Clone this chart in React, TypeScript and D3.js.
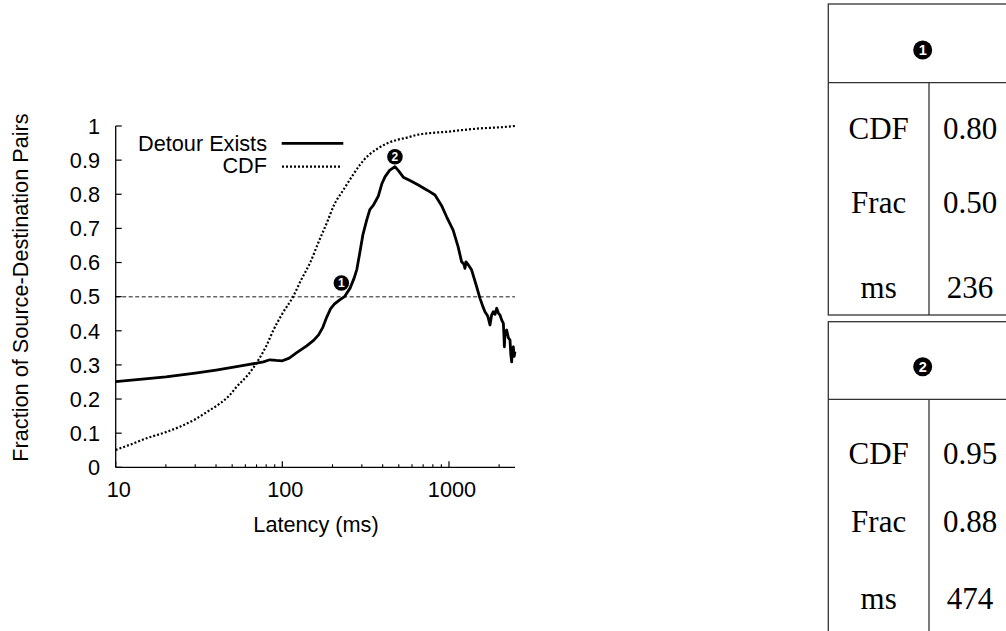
import React from "react";
import * as d3 from "d3";

// ---- data ----
const detourMs = [10, 15, 20, 30, 40, 50, 61, 70, 77, 84, 92, 100, 110, 122, 140, 154, 165, 175, 185, 195, 205, 220, 236, 255, 270, 280, 292, 304, 321, 335, 352, 377, 395, 413, 440, 474, 500, 532, 583, 655, 740, 824, 900, 968, 1059, 1135, 1191, 1230, 1247, 1265, 1320, 1368, 1466, 1535, 1600, 1644, 1700, 1722, 1762, 1800, 1846, 1890, 1933, 1980, 2025, 2070, 2120, 2140, 2149, 2170, 2219, 2270, 2324, 2350, 2378, 2405, 2433, 2460, 2490];
const detourFrac = [0.251, 0.259, 0.265, 0.276, 0.285, 0.293, 0.3, 0.305, 0.309, 0.315, 0.313, 0.312, 0.32, 0.336, 0.356, 0.372, 0.388, 0.41, 0.441, 0.465, 0.478, 0.49, 0.5, 0.525, 0.555, 0.58, 0.63, 0.68, 0.725, 0.755, 0.768, 0.795, 0.83, 0.851, 0.87, 0.881, 0.868, 0.85, 0.84, 0.827, 0.812, 0.798, 0.768, 0.734, 0.695, 0.646, 0.602, 0.595, 0.583, 0.602, 0.59, 0.578, 0.529, 0.495, 0.47, 0.456, 0.445, 0.437, 0.417, 0.445, 0.456, 0.448, 0.466, 0.452, 0.446, 0.432, 0.422, 0.38, 0.353, 0.395, 0.402, 0.38, 0.373, 0.33, 0.309, 0.35, 0.353, 0.325, 0.339];

const cdfMs = [10, 12, 15.3, 20, 24.3, 30.6, 36, 42.3, 48, 53.2, 62, 72, 80, 88, 100, 116, 130, 147, 165, 184.5, 205, 232, 260, 292, 330, 368, 420, 485, 560, 640, 800, 968, 1200, 1535, 2000, 2490];
const cdfVal = [0.051, 0.065, 0.085, 0.103, 0.119, 0.143, 0.165, 0.187, 0.21, 0.236, 0.27, 0.315, 0.355, 0.4, 0.45, 0.5, 0.55, 0.6, 0.66, 0.715, 0.77, 0.812, 0.85, 0.886, 0.915, 0.932, 0.948, 0.959, 0.966, 0.974, 0.98, 0.983, 0.988, 0.993, 0.996, 1.0];

const xMajorTicks = [10, 100, 1000];
const yTicks = [0, 0.1, 0.2, 0.3, 0.4, 0.5, 0.6, 0.7, 0.8, 0.9, 1];
const yTickLabels = ["0", "0.1", "0.2", "0.3", "0.4", "0.5", "0.6", "0.7", "0.8", "0.9", "1"];
const referenceLine = 0.5;

const markerLabels = ["1", "2"];
const markerMs = [226, 474];
const markerFrac = [0.54, 0.91];

const tableRowLabels = ["CDF", "Frac", "ms"];
const tableValues = [
  ["0.80", "0.50", "236"],
  ["0.95", "0.88", "474"],
];

const seriesNames = ["Detour Exists", "CDF"];

export default function App() {
  const left = 115.7, right = 515, top = 126, bottom = 467.3;
  const x = d3.scaleLog().domain([10, 2490]).range([left, right]);
  const y = d3.scaleLinear().domain([0, 1]).range([bottom, top]);

  const detourLine = d3.line<number>()
    .x((_, i) => x(detourMs[i]))
    .y((d) => y(d))(detourFrac) as string;
  const cdfLine = d3.line<number>()
    .x((_, i) => x(cdfMs[i]))
    .y((d) => y(d))
    .curve(d3.curveMonotoneX)(cdfVal) as string;

  const minorTicks = x.ticks().filter((t) => !xMajorTicks.includes(t));

  const sans = "'Liberation Sans', Arial, Helvetica, sans-serif";
  const serif = "'Liberation Serif', 'Times New Roman', serif";
  const fs = 21.7;

  // table geometry
  const tLeft = 828.3, tRight = 1017, tDiv = 929;
  const tables = [
    { top: 4, header: 82.7, bottom: 315, markerY: 50, rows: [139.3, 213.3, 298.3] },
    { top: 321.7, header: 399.3, bottom: 700, markerY: 366.7, rows: [464, 531.7, 609.3] },
  ];
  const col1 = (tLeft + tDiv) / 2;
  const col2 = 970;

  return (
    <svg width={1006} height={631} style={{ position: "absolute", left: 0, top: 0, background: "#fff" }}>
      <rect x={0} y={0} width={1006} height={631} fill="#fff" />
      {/* reference line */}
      <line x1={left} x2={right} y1={y(referenceLine)} y2={y(referenceLine)} stroke="#666" strokeWidth={1.5} strokeDasharray="4,2.5" />
      {/* axes */}
      <line x1={left} x2={left} y1={top} y2={bottom} stroke="#000" strokeWidth={1.3} />
      <line x1={left} x2={right} y1={bottom} y2={bottom} stroke="#000" strokeWidth={1.3} />
      {yTicks.map((t, i) => (
        <g key={"y" + i}>
          <line x1={left} x2={left + 6} y1={y(t)} y2={y(t)} stroke="#000" strokeWidth={1.2} />
          <text x={100} y={y(t)} dy="0.36em" textAnchor="end" fontFamily={sans} fontSize={fs} fill="#000">{yTickLabels[i]}</text>
        </g>
      ))}
      {xMajorTicks.map((t) => (
        <g key={"x" + t}>
          <line x1={x(t)} x2={x(t)} y1={bottom} y2={bottom - 6} stroke="#000" strokeWidth={1.2} />
          <text x={x(t) + 3} y={496.7} textAnchor="middle" fontFamily={sans} fontSize={fs} fill="#000">{String(t)}</text>
        </g>
      ))}
      {minorTicks.map((t) => (
        <line key={"m" + t} x1={x(t)} x2={x(t)} y1={bottom} y2={bottom - 3} stroke="#000" strokeWidth={1.1} />
      ))}
      <text x={316} y={531.7} textAnchor="middle" fontFamily={sans} fontSize={fs} fill="#000">Latency (ms)</text>
      <text transform={`translate(28,287.5) rotate(-90)`} textAnchor="middle" fontFamily={sans} fontSize={fs} fill="#000">Fraction of Source-Destination Pairs</text>

      {/* series */}
      <path d={cdfLine} fill="none" stroke="#000" strokeWidth={2.2} strokeDasharray="2,2" />
      <path d={detourLine} fill="none" stroke="#000" strokeWidth={2.8} strokeLinejoin="round" />

      {/* legend */}
      <text x={267} y={150.7} textAnchor="end" fontFamily={sans} fontSize={fs} fill="#000">{seriesNames[0]}</text>
      <line x1={281.7} x2={343.3} y1={143.3} y2={143.3} stroke="#000" strokeWidth={2.8} />
      <text x={267} y={173.3} textAnchor="end" fontFamily={sans} fontSize={fs} fill="#000">{seriesNames[1]}</text>
      <line x1={282} x2={342} y1={166.7} y2={166.7} stroke="#000" strokeWidth={2.2} strokeDasharray="2,2" />

      {/* markers */}
      {markerLabels.map((m, i) => (
        <g key={"mk" + i}>
          <circle cx={x(markerMs[i])} cy={y(markerFrac[i])} r={7.8} fill="#000" />
          <text x={x(markerMs[i])} y={y(markerFrac[i])} dy="0.36em" textAnchor="middle" fontFamily={sans} fontWeight="bold" fontSize={12} fill="#fff">{m}</text>
        </g>
      ))}

      {/* tables */}
      {tables.map((t, ti) => (
        <g key={"t" + ti}>
          <rect x={tLeft} y={t.top} width={tRight - tLeft} height={t.bottom - t.top} fill="none" stroke="#333" strokeWidth={1.3} />
          <line x1={tLeft} x2={tRight} y1={t.header} y2={t.header} stroke="#333" strokeWidth={1.3} />
          <line x1={tDiv} x2={tDiv} y1={t.header} y2={t.bottom} stroke="#333" strokeWidth={1.3} />
          <circle cx={922.7} cy={t.markerY} r={9.5} fill="#000" />
          <text x={922.7} y={t.markerY} dy="0.36em" textAnchor="middle" fontFamily={sans} fontWeight="bold" fontSize={14.5} fill="#fff">{markerLabels[ti]}</text>
          {tableRowLabels.map((r, ri) => (
            <g key={"r" + ri}>
              <text x={col1} y={t.rows[ri]} textAnchor="middle" fontFamily={serif} fontSize={31} fill="#000">{r}</text>
              <text x={col2} y={t.rows[ri]} textAnchor="middle" fontFamily={serif} fontSize={31} fill="#000">{tableValues[ti][ri]}</text>
            </g>
          ))}
        </g>
      ))}
    </svg>
  );
}
